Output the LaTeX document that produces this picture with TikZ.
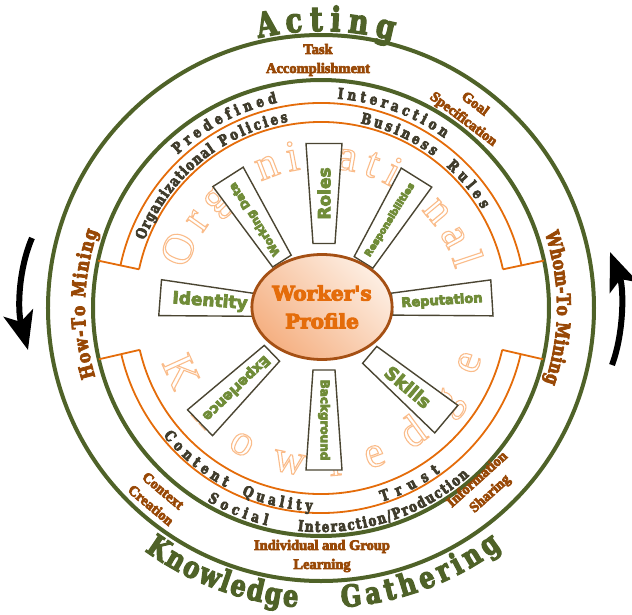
\documentclass[tikz,border=0pt]{standalone}
\usepackage{fontspec}
\usetikzlibrary{decorations.text,shapes.geometric,arrows.meta}

\newfontfamily\ringfont[FakeStretch=0.8]{DejaVu Serif Bold}
\newfontfamily\profilefont{DejaVu Serif Bold}
\newfontfamily\labelfont{Liberation Serif Bold}
\newfontfamily\spokefont{DejaVu Sans Bold}
\newfontfamily\softfont{Liberation Serif}

\definecolor{ringgreen}{RGB}{79,98,40}
\definecolor{arcorange}{RGB}{228,108,10}
\definecolor{labelbrown}{RGB}{152,72,6}
\definecolor{bandgray}{RGB}{64,60,44}
\definecolor{spokegreen}{RGB}{112,140,56}
\definecolor{spokeline}{RGB}{74,69,50}
\definecolor{softorange}{RGB}{250,188,138}
\definecolor{profileorange}{RGB}{228,108,10}
\definecolor{profilerim}{RGB}{165,80,20}
\definecolor{profilelight}{RGB}{253,238,226}
\definecolor{profiledeep}{RGB}{245,176,130}

% glyph outlines: #1 render mode, #2 stroke width
\newcommand\glyphmode[2]{\special{pdf:literal direct #1 Tr #2 w}}

\tikzset{
  ring/.style={draw=ringgreen, line width=4pt},
  bandarc/.style={draw=arcorange, line width=1.8pt},
  spokeframe/.style={draw=spokeline, line width=1.4pt, fill=white},
  spokelabel/.style={text=spokegreen,
    execute at begin node={\special{pdf:literal direct 0.31 0.384 0.157 RG}\glyphmode{2}{0.8}},
    execute at end node={\glyphmode{0}{1}}},
  phaselabel/.style={text=labelbrown, align=center,
    font=\labelfont\fontsize{14.5}{19}\selectfont,
    execute at begin node={\glyphmode{2}{0.7}},
    execute at end node={\glyphmode{0}{1}}},
  profile/.style={ellipse, draw=profilerim, line width=2.8pt,
    minimum width=115pt, minimum height=105pt,
    top color=profilelight, bottom color=profiledeep, shading angle=-45,
    text=profileorange, align=center,
    font=\profilefont\fontsize{20}{28}\selectfont,
    execute at begin node={\glyphmode{2}{1}},
    execute at end node={\glyphmode{0}{1}}},
  cyclearrow/.style={line width=6pt, -{Stealth[length=38pt, width=30pt, inset=9pt]}}
}

% text formats for the lettering on the rings
\newcommand\bandtext{\ringfont\fontsize{15}{15}\selectfont\color{bandgray}\glyphmode{2}{0.7}}
\newcommand\bigtext{\ringfont\fontsize{34}{34}\selectfont\color{ringgreen}\glyphmode{2}{1.2}}
\newcommand\lowtext{\ringfont\fontsize{30}{30}\selectfont\color{ringgreen}\glyphmode{2}{1.2}}
\newcommand\miningtext{\ringfont\fontsize{19}{19}\selectfont\color{labelbrown}\glyphmode{2}{0.8}}
\newcommand\softtext{\softfont\fontsize{44}{44}\selectfont\color{softorange}\glyphmode{1}{1.1}}

% #1 format, #2 start angle, #3 end angle, #4 radius, #5 text
\newcommand{\arctext}[5]{%
  \path[decorate, decoration={text along path, text align={fit to path}, text={|#1|#5}}]
    (#2:#4pt) arc[start angle=#2, end angle=#3, radius=#4pt];}

% #1 name, #2 centre, #3 axis angle, #4 label angle, #5 font size, #6 label
\newcommand{\spoke}[6]{%
  \draw[spokeframe, shift={#2}, rotate=#3] (-50,-11) -- (50,-18) -- (50,18) -- (-50,11) -- cycle;
  \node[spokelabel, rotate=#4, font=\spokefont\fontsize{#5}{#5}\selectfont] (#1) at #2 {#6};}

\begin{document}
\begin{tikzpicture}[x=1pt, y=1pt, every node/.style={inner sep=0pt}]
\useasboundingbox (-321,-306) rectangle (311,308);

% the two green rings
\draw[ring] (0,0) circle[radius=273pt];
\draw[ring] (0,0) circle[radius=228pt];

% orange bands, closed by bars out to the inner ring
\foreach \s/\e in {12/168, 193/347} {
  \draw[bandarc] (\s:205pt) arc[start angle=\s, end angle=\e, radius=205pt];
  \draw[bandarc] (\s:186pt) arc[start angle=\s, end angle=\e, radius=186pt];
  \draw[bandarc] (\s:186pt) -- (\s:228pt);
  \draw[bandarc] (\e:186pt) -- (\e:228pt);
}

% hollow lettering behind the spokes
\begin{scope}
  \arctext{\softtext}{164}{16}{140}{Organizational}
  \arctext{\softtext}{199}{343}{168}{Knowledge}
\end{scope}

% spokes round the profile
\spoke{roles}{(3,114.5)}{90}{90}{17}{Roles}
\spoke{resp}{(69,88)}{58}{58}{9.5}{Responsibilities}
\spoke{reput}{(121,7)}{3.6}{3.6}{13}{Reputation}
\spoke{skills}{(87,-79)}{-40}{-40}{18}{Skills}
\spoke{backgr}{(3,-112)}{-90}{-90}{12}{Background}
\spoke{exper}{(-85,-80)}{224}{224}{14}{Experience}
\spoke{ident}{(-111,6.5)}{175.6}{-4.4}{17}{Identity}
\spoke{wdata}{(-66,89)}{122.6}{122.6}{11}{Working Data}

\node[profile] (profile) at (1,1) {Worker's\\Profile};

% lettering in the orange bands
\begin{scope}
\arctext{\bandtext}{133}{102}{210}{Predefined}
\arctext{\bandtext}{85.5}{54}{210}{Interaction}
\arctext{\bandtext}{159}{124}{189}{Organizational}
\arctext{\bandtext}{121.5}{100}{189}{Policies}
\arctext{\bandtext}{78}{53.5}{189}{Business}
\arctext{\bandtext}{48.5}{31.5}{189}{Rules}
\arctext{\bandtext}{219}{242}{203}{Content}
\arctext{\bandtext}{247}{267.5}{203}{Quality}
\arctext{\bandtext}{287.5}{306}{203}{Trust}
\arctext{\bandtext}{239.5}{256}{224}{Social}
\arctext{\bandtext}{264}{311.5}{224}{Interaction/Production}
\end{scope}

% phases between the green rings
\node[phaselabel] (task) at (-3,248) {Task\\Accomplishment};
\node[phaselabel, rotate=-37] (goal) at (148,196) {Goal\\Specification};
\node[phaselabel, rotate=-40] (context) at (-164,-190) {Context\\Creation};
\node[phaselabel, rotate=42] (sharing) at (163,-179) {Information\\Sharing};
\node[phaselabel] (learning) at (1,-248) {Individual and Group\\Learning};
\begin{scope}
\arctext{\miningtext}{197}{161}{236}{How-To Mining}
\arctext{\miningtext}{18.5}{-18.5}{236}{Whom-To Mining}

% outer words
\arctext{\bigtext}{103}{75}{277}{Acting}
\arctext{\lowtext}{234}{265.5}{300}{Knowledge}
\arctext{\lowtext}{274}{307}{300}{Gathering}
\end{scope}

% turning arrows
\draw[cyclearrow] (-289,70) .. controls (-302,40) and (-304,0) .. (-293,-42);
\draw[cyclearrow] (291,-57) .. controls (303,-25) and (303,20) .. (289,56);
\end{tikzpicture}
\end{document}
